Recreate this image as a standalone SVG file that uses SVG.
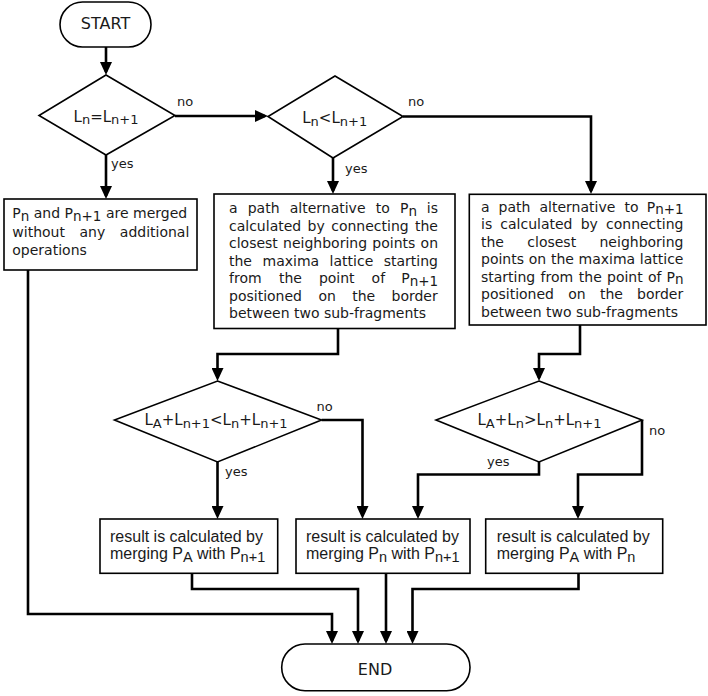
<svg xmlns="http://www.w3.org/2000/svg" width="708" height="696" viewBox="0 0 708 696">
<style>
.node{fill:#fff;stroke:#000;stroke-width:1.6}
.conn{fill:none;stroke:#000;stroke-width:2.6;stroke-linejoin:miter;stroke-linecap:butt}
.t{font-family:"DejaVu Sans",Verdana,sans-serif;font-size:14px;fill:#1a1a1a}
.s{font-size:13.5px}
.d{font-family:"DejaVu Sans",Verdana,sans-serif;font-size:15px;fill:#1a1a1a;text-anchor:middle}
.ds{font-size:13px}
.b{font-family:"Liberation Sans",Arial,sans-serif;font-size:16px;fill:#1a1a1a}
.bs{font-size:14.5px}
.lbl{font-family:"DejaVu Sans",Verdana,sans-serif;font-size:13px;fill:#1a1a1a}
.term{font-family:"DejaVu Sans",Verdana,sans-serif;font-size:16px;fill:#1a1a1a;text-anchor:middle}
</style>
<defs>
<marker id="ah" markerUnits="userSpaceOnUse" viewBox="0 0 13 12" refX="10" refY="6" markerWidth="13" markerHeight="12" orient="auto">
<path d="M0,0 L13,6 L0,12 z" fill="#000"/>
</marker>
</defs>

<g id="connectors">
<path class="conn" marker-end="url(#ah)" d="M106,47 V72"/>
<path class="conn" marker-end="url(#ah)" d="M175,116 H265"/>
<path class="conn" marker-end="url(#ah)" d="M106,155 V196"/>
<path class="conn" marker-end="url(#ah)" d="M333,158 V191"/>
<path class="conn" marker-end="url(#ah)" d="M403,116.5 H591 V191"/>
<path class="conn" marker-end="url(#ah)" d="M28,270 V614 H332 V641"/>
<path class="conn" marker-end="url(#ah)" d="M338,329 V354 H217.5 V378"/>
<path class="conn" marker-end="url(#ah)" d="M217.5,462 V516"/>
<path class="conn" marker-end="url(#ah)" d="M321.5,420 H362.5 V516"/>
<path class="conn" marker-end="url(#ah)" d="M580,325 V354 H539 V378"/>
<path class="conn" marker-end="url(#ah)" d="M642,420 V474.5 H578 V516"/>
<path class="conn" marker-end="url(#ah)" d="M539,462 V474.5 H418 V516"/>
<path class="conn" marker-end="url(#ah)" d="M192,573.3 V589 H358 V641"/>
<path class="conn" marker-end="url(#ah)" d="M386,573.3 V641"/>
<path class="conn" marker-end="url(#ah)" d="M578.5,573.3 V589 H412.5 V641"/>
<text class="lbl" x="177" y="106">no</text>
<text class="lbl" x="111" y="168">yes</text>
<text class="lbl" x="408" y="106">no</text>
<text class="lbl" x="345" y="173">yes</text>
<text class="lbl" x="316.5" y="411">no</text>
<text class="lbl" x="225" y="476">yes</text>
<text class="lbl" x="649" y="435">no</text>
<text class="lbl" x="487" y="466">yes</text>
</g>

<g id="start">
<rect class="node" x="60" y="2" width="91" height="45" rx="22.5" ry="22.5"/>
<text class="term" x="105.5" y="29">START</text>
</g>

<g id="dec1">
<polygon class="node" points="106,75 175,115.5 106,155 39,115.5"/>
<text class="d" x="106" y="121.5">L<tspan class="ds" dy="2.5">n</tspan><tspan dy="-2.5">=L</tspan><tspan class="ds" dy="2.5">n+1</tspan></text>
</g>

<g id="dec2">
<polygon class="node" points="335,76 403,116.5 333,158 268,116.5"/>
<text class="d" x="334.7" y="123">L<tspan class="ds" dy="2.5">n</tspan><tspan dy="-2.5">&lt;L</tspan><tspan class="ds" dy="2.5">n+1</tspan></text>
</g>

<g id="box1">
<rect class="node" x="4" y="199" width="193" height="71"/>
<text class="t" x="12.3" y="218.3">P<tspan class="s" dy="2.5">n</tspan><tspan dy="-2.5"> and P</tspan><tspan class="s" dy="2.5">n+1</tspan><tspan dy="-2.5"> are merged</tspan></text>
<text class="t" y="236.5"><tspan x="12.3">without</tspan><tspan x="79.5">any</tspan><tspan x="119.8">additional</tspan></text>
<text class="t" x="12.3" y="254.5">operations</text>
</g>

<g id="box2">
<rect class="node" x="214" y="194" width="241" height="134.5"/>
<text class="t" y="213.3"><tspan x="229">a</tspan><tspan x="247.7">path</tspan><tspan x="289.7">alternative</tspan><tspan x="375.8">to</tspan><tspan x="400">P<tspan class="s" dy="2.5">n</tspan></tspan><tspan x="426.8" y="213.3">is</tspan></text>
<text class="t" y="230.8"><tspan x="229">calculated</tspan><tspan x="307.6">by</tspan><tspan x="331.2">connecting</tspan><tspan x="415">the</tspan></text>
<text class="t" y="248.3"><tspan x="229">closest</tspan><tspan x="283.1">neighboring</tspan><tspan x="372.3">points</tspan><tspan x="420.6">on</tspan></text>
<text class="t" y="265.8"><tspan x="229">the</tspan><tspan x="262.5">maxima</tspan><tspan x="329.6">lattice</tspan><tspan x="383.7">starting</tspan></text>
<text class="t" y="283.3"><tspan x="229">from</tspan><tspan x="278.9">the</tspan><tspan x="318.9">point</tspan><tspan x="371.6">of</tspan><tspan x="401.2">P<tspan class="s" dy="2.5">n+1</tspan></tspan></text>
<text class="t" y="300.8"><tspan x="229">positioned</tspan><tspan x="318.4">on</tspan><tspan x="352.2">the</tspan><tspan x="391.5">border</tspan></text>
<text class="t" x="229" y="318.3">between two sub-fragments</text>
</g>

<g id="box3">
<rect class="node" x="469.3" y="194.3" width="236.7" height="130.7"/>
<text class="t" y="211.7"><tspan x="481">a</tspan><tspan x="498.6">path</tspan><tspan x="539.5">alternative</tspan><tspan x="624.6">to</tspan><tspan x="646.7">P<tspan class="s" dy="2.5">n+1</tspan></tspan></text>
<text class="t" y="229.2"><tspan x="481">is</tspan><tspan x="500.3">calculated</tspan><tspan x="580.7">by</tspan><tspan x="606">connecting</tspan></text>
<text class="t" y="246.7"><tspan x="481">the</tspan><tspan x="527.3">closest</tspan><tspan x="599.5">neighboring</tspan></text>
<text class="t" y="264.2"><tspan x="481">points</tspan><tspan x="528.7">on</tspan><tspan x="550.9">the</tspan><tspan x="578.5">maxima</tspan><tspan x="639.8">lattice</tspan></text>
<text class="t" y="281.7"><tspan x="481">starting</tspan><tspan x="540.6">from</tspan><tspan x="578.8">the</tspan><tspan x="607">point</tspan><tspan x="648">of</tspan><tspan x="666.5">P<tspan class="s" dy="2.5">n</tspan></tspan></text>
<text class="t" y="299.2"><tspan x="481">positioned</tspan><tspan x="568.2">on</tspan><tspan x="599.9">the</tspan><tspan x="637">border</tspan></text>
<text class="t" x="481" y="316.7">between two sub-fragments</text>
</g>

<g id="dec3">
<polygon class="node" points="217.5,381 321.5,420 217.5,462 114.5,420"/>
<text class="d" x="216" y="425">L<tspan class="ds" dy="2.5">A</tspan><tspan dy="-2.5">+L</tspan><tspan class="ds" dy="2.5">n+1</tspan><tspan dy="-2.5">&lt;L</tspan><tspan class="ds" dy="2.5">n</tspan><tspan dy="-2.5">+L</tspan><tspan class="ds" dy="2.5">n+1</tspan></text>
</g>

<g id="dec4">
<polygon class="node" points="539,381 642,420 539,462 436,420"/>
<text class="d" x="539.5" y="425">L<tspan class="ds" dy="2.5">A</tspan><tspan dy="-2.5">+L</tspan><tspan class="ds" dy="2.5">n</tspan><tspan dy="-2.5">&gt;L</tspan><tspan class="ds" dy="2.5">n</tspan><tspan dy="-2.5">+L</tspan><tspan class="ds" dy="2.5">n+1</tspan></text>
</g>

<g id="box4">
<rect class="node" x="100" y="519" width="177.7" height="54.3"/>
<text class="b" x="110" y="541.5">result is calculated by</text>
<text class="b" x="110" y="559">merging P<tspan class="bs" dy="2.5">A</tspan><tspan dy="-2.5"> with P</tspan><tspan class="bs" dy="2.5">n+1</tspan></text>
</g>

<g id="box5">
<rect class="node" x="296" y="519" width="174" height="54.3"/>
<text class="b" x="306" y="541.5">result is calculated by</text>
<text class="b" x="306" y="559">merging P<tspan class="bs" dy="2.5">n</tspan><tspan dy="-2.5"> with P</tspan><tspan class="bs" dy="2.5">n+1</tspan></text>
</g>

<g id="box6">
<rect class="node" x="485.7" y="519" width="177" height="54.3"/>
<text class="b" x="496.7" y="541.5">result is calculated by</text>
<text class="b" x="496.7" y="559">merging P<tspan class="bs" dy="2.5">A</tspan><tspan dy="-2.5"> with P</tspan><tspan class="bs" dy="2.5">n</tspan></text>
</g>

<g id="end">
<rect class="node" x="281.7" y="644" width="188.3" height="46.7" rx="23.3" ry="23.3"/>
<text class="term" x="375" y="675">END</text>
</g>
</svg>
